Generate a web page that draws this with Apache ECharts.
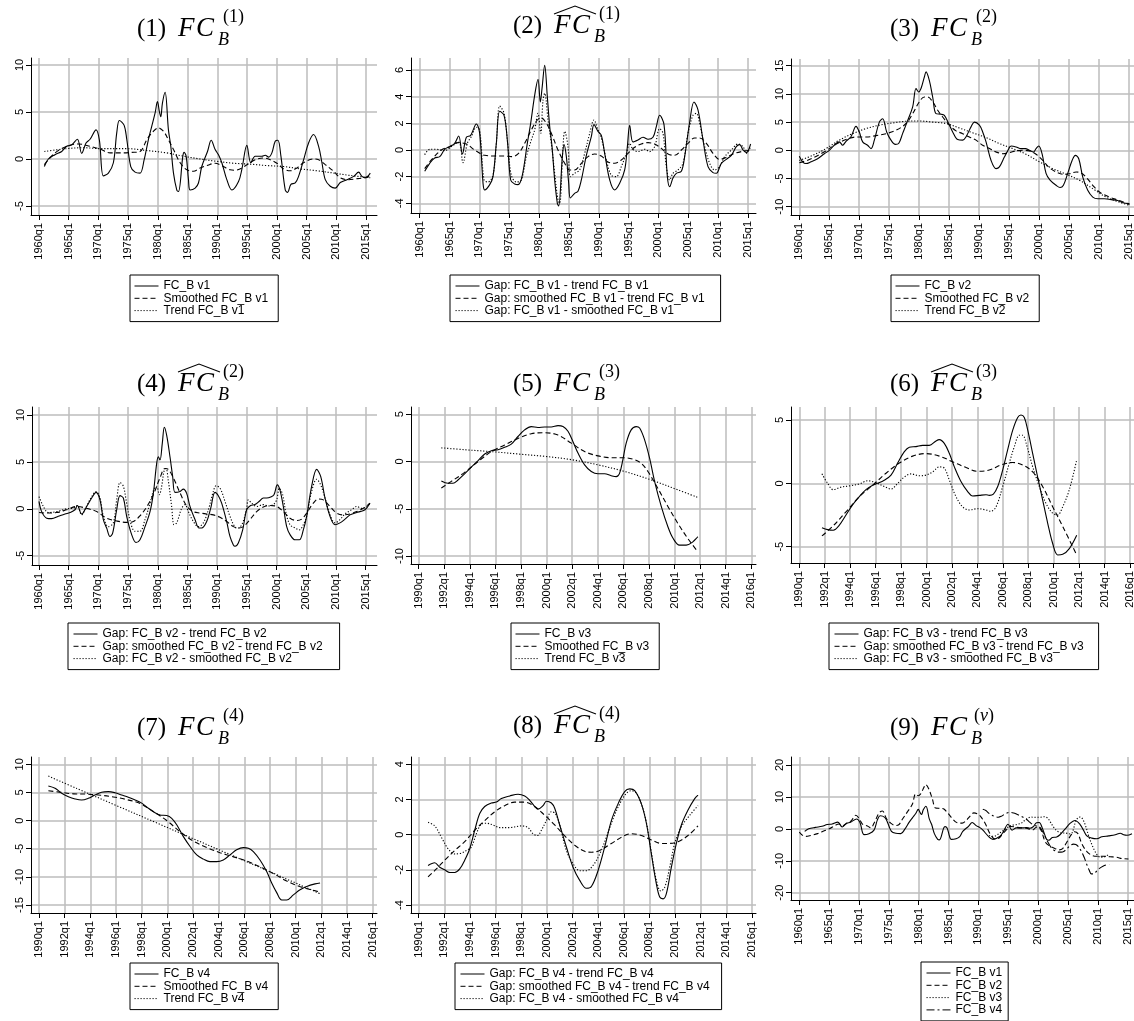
<!DOCTYPE html>
<html><head><meta charset="utf-8">
<script src="https://cdn.jsdelivr.net/npm/echarts@6/dist/echarts.min.js"></script>
<style>html,body{margin:0;padding:0;background:#fff}#c{width:1134px;height:1021px}</style>
</head><body><div id="c"></div>
<script>
// ---------- tick values ----------
const ticksLong = [1960,1965,1970,1975,1980,1985,1990,1995,2000,2005,2010,2015];
const ticksShort = [1990,1992,1994,1996,1998,2000,2002,2004,2006,2008,2010,2012,2014,2016];

// ---------- FC_B v1 (panels 1, 2, 9) ----------
const fc1 = [[1960.9,-0.8],[1961.57,0],[1962.69,0.46],[1963.82,0.8],[1964.66,1.35],[1965.5,1.5],[1966.45,2.1],[1967.18,0.6],[1967.91,1.7],[1968.59,2.1],[1969.6,3.1],[1970.16,2.0],[1970.83,-1.8],[1971.67,-1.5],[1972.51,-0.4],[1973.08,2.8],[1973.52,4.1],[1974.31,3.6],[1974.76,2.1],[1975.43,-0.8],[1976.16,-1.4],[1977.0,-1.5],[1977.68,-0.1],[1978.41,2.1],[1978.97,3.5],[1979.53,4.9],[1979.92,6.1],[1980.26,5.0],[1980.48,4.5],[1980.76,5.95],[1981.21,7.1],[1981.77,3.1],[1982.17,1.35],[1982.62,-1.5],[1983.18,-3.3],[1983.46,-3.45],[1984.19,0.3],[1984.41,0.7],[1984.75,0.3],[1985.14,-2.2],[1985.42,-3.3],[1986.26,-3.1],[1986.82,-2.55],[1987.38,-0.8],[1988.34,0.8],[1988.96,2.0],[1989.63,1.0],[1990.19,0.45],[1990.75,-0.4],[1991.59,-2.2],[1992.44,-3.3],[1993.56,-2.4],[1994.12,-1.1],[1994.96,1.45],[1995.63,-0.4],[1996.36,0.3],[1997.49,0.3],[1998.05,0.4],[1998.61,0.2],[1999.17,0.65],[1999.73,1.9],[2000.18,2.0],[2000.69,0.3],[2001.42,-3.3],[2001.81,-3.55],[2002.37,-2.7],[2003.1,-2.55],[2003.66,-1.85],[2004.5,-0.1],[2005.34,1.7],[2006.18,2.6],[2007.03,1.35],[2007.59,-0.4],[2008.15,-2.2],[2008.99,-2.9],[2009.83,-3.1],[2010.67,-2.5],[2011.8,-2.2],[2012.92,-1.85],[2013.76,-1.4],[2014.32,-1.85],[2014.88,-2.0],[2015.72,-1.5]];
const fc1Smooth = [[1960.9,-0.6],[1962.69,0.65],[1964.66,1.35],[1966.62,1.6],[1968.59,1.35],[1970.27,1.05],[1971.95,0.65],[1973.64,0.65],[1975.6,0.7],[1977.0,0.8],[1978.13,2.05],[1979.25,2.95],[1980.09,3.3],[1980.93,2.95],[1981.77,2.05],[1982.62,1.0],[1983.74,-0.4],[1984.86,-1.15],[1985.98,-1.3],[1987.1,-0.95],[1988.23,-0.7],[1989.63,-0.45],[1990.75,-0.7],[1992.15,-1.15],[1992.99,-1.2],[1994.12,-0.95],[1995.24,-0.5],[1996.36,-0.07],[1997.77,0.1],[1998.89,-0.07],[2000.01,-0.45],[2001.13,-1.05],[2002.26,-1.25],[2003.38,-0.95],[2004.5,-0.4],[2006.18,0],[2007.03,-0.07],[2008.15,-0.6],[2009.55,-1.3],[2010.67,-2.0],[2012.08,-2.2],[2013.48,-2.1],[2014.6,-2.0],[2015.72,-1.85]];
const fc1Trend = [[1960.9,0.8],[1964.66,1.1],[1967.46,1.2],[1970.27,1.1],[1974.76,1.1],[1978.13,0.9],[1981.49,0.65],[1984.3,0.3],[1987.1,0],[1989.91,-0.25],[1992.72,-0.45],[1995.52,-0.55],[1998.33,-0.7],[2001.13,-0.8],[2003.94,-1.05],[2006.75,-1.25],[2009.55,-1.5],[2012.36,-1.75],[2015.72,-2.0]];
const gap1Trend = [[1960.84,-1.6],[1961.68,-1.0],[1962.51,-0.6],[1963.35,-0.5],[1964.19,0.05],[1965.03,0.25],[1965.86,0.5],[1966.53,1.05],[1967.15,-0.3],[1967.82,0.95],[1968.54,1.1],[1969.49,1.95],[1970.05,1.25],[1970.61,-2.5],[1970.89,-3.0],[1971.73,-2.6],[1972.28,-2.0],[1972.84,0.5],[1973.4,2.9],[1974.13,2.6],[1974.68,0.75],[1975.24,-2.25],[1975.91,-2.55],[1976.47,-2.6],[1977.14,-2.0],[1978.03,0.5],[1978.59,2.0],[1979.26,4.1],[1979.82,5.3],[1980.21,3.6],[1980.49,4.6],[1980.94,6.35],[1981.38,4.0],[1981.78,1.75],[1982.17,0.25],[1982.61,-2.25],[1983.06,-4.0],[1983.28,-4.2],[1983.9,-0.5],[1984.18,0.4],[1984.57,-0.5],[1984.96,-2.5],[1985.24,-3.6],[1985.96,-3.25],[1986.52,-3.1],[1987.08,-2.25],[1987.92,-0.4],[1988.75,1.0],[1989.2,1.9],[1989.87,1.4],[1990.43,1.1],[1990.99,-0.25],[1991.83,-2.25],[1992.66,-3.0],[1993.5,-2.5],[1994.34,-1.5],[1994.79,0.25],[1995.18,1.85],[1995.73,0.6],[1996.57,0.75],[1997.41,0.95],[1998.25,0.8],[1999.08,0.95],[1999.64,1.75],[2000.2,2.6],[2000.93,1.9],[2001.49,-2.0],[2001.88,-2.75],[2002.43,-2.1],[2002.99,-1.75],[2003.83,-1.6],[2004.39,-0.5],[2005.23,2.1],[2005.95,3.6],[2006.62,3.0],[2007.46,0.75],[2008.3,-1.25],[2009.13,-1.7],[2009.69,-1.75],[2010.53,-1.0],[2011.37,-0.7],[2012.21,-0.4],[2013.04,0.25],[2013.6,0.4],[2014.16,0],[2014.72,-0.2],[2015.44,0.45]];
const gap1SmoothTrend = [[1960.84,-1.4],[1961.95,-0.75],[1963.63,0],[1965.03,0.25],[1966.42,0.55],[1967.82,0.45],[1969.21,0],[1970.89,-0.4],[1972.56,-0.45],[1974.24,-0.45],[1975.35,-0.5],[1976.47,-0.3],[1977.59,0.5],[1978.7,1.5],[1979.71,2.25],[1980.38,2.4],[1981.22,2.0],[1982.05,1.25],[1983.17,0],[1984.29,-1.0],[1985.13,-1.5],[1985.96,-1.5],[1987.08,-1.0],[1988.2,-0.5],[1989.31,-0.3],[1990.43,-0.45],[1991.55,-0.9],[1992.66,-1.0],[1993.78,-0.75],[1994.9,-0.25],[1996.01,0.2],[1997.13,0.45],[1998.25,0.55],[1999.36,0.45],[2000.48,0.12],[2001.6,-0.3],[2002.71,-0.4],[2003.83,0],[2004.95,0.5],[2006.06,0.9],[2006.9,0.9],[2008.02,0.5],[2009.13,-0.25],[2010.25,-0.7],[2011.37,-0.55],[2012.48,-0.3],[2013.88,-0.12],[2015.44,0]];
const gap1Smooth = [[1960.84,-0.35],[1961.68,0.05],[1962.79,0.05],[1964.19,-0.05],[1965.3,0.25],[1966.53,0.6],[1967.26,-0.95],[1967.98,0.5],[1968.65,1.0],[1969.49,1.7],[1970.05,1.5],[1970.78,-2.25],[1971.45,-2.4],[1972.28,-1.9],[1972.84,0.5],[1973.4,3.3],[1974.13,2.75],[1974.8,0.25],[1975.35,-1.9],[1976.19,-2.4],[1977.03,-2.25],[1977.87,-0.5],[1978.7,0.75],[1979.26,1.5],[1979.82,2.75],[1980.27,1.25],[1980.66,3.75],[1980.94,4.25],[1981.5,2.25],[1982.05,0.5],[1982.61,-1.75],[1983.17,-3.75],[1983.45,-4.0],[1984.01,0.25],[1984.29,1.4],[1984.85,0.25],[1985.24,-2.0],[1985.96,-1.75],[1986.8,-1.5],[1987.64,-0.25],[1988.48,1.25],[1989.2,2.25],[1989.87,1.5],[1990.43,0.9],[1991.27,-0.75],[1992.1,-1.9],[1992.94,-2.0],[1993.78,-1.25],[1994.62,-0.25],[1995.18,0.5],[1995.73,0.05],[1996.57,-0.12],[1997.69,0.05],[1998.53,-0.12],[1999.36,0.25],[2000.2,1.6],[2000.76,1.25],[2001.32,-1.25],[2001.88,-2.25],[2002.43,-1.75],[2003.27,-1.5],[2004.11,-1.0],[2004.95,1.25],[2005.78,2.6],[2006.34,2.75],[2006.9,2.0],[2007.74,0.25],[2008.58,-1.0],[2009.41,-1.5],[2010.25,-1.25],[2011.09,-0.5],[2012.21,0],[2013.32,0.45],[2014.16,0.25],[2014.72,-0.25],[2015.44,0.25]];

// ---------- FC_B v2 (panels 3, 4, 9) ----------
const fc2 = [[1960.0,-1.05],[1960.56,-2.05],[1961.11,-2.35],[1961.95,-2.05],[1963.06,-1.5],[1964.18,-0.6],[1965.01,0],[1966.12,1.2],[1966.68,1.5],[1967.24,0.9],[1967.8,1.6],[1968.63,2.4],[1969.47,4.25],[1970.02,3.25],[1970.58,1.5],[1971.41,0.9],[1971.97,0.3],[1972.53,1.8],[1973.36,5.0],[1973.92,5.6],[1974.59,3.25],[1975.31,1.8],[1976.04,1.05],[1976.59,1.2],[1977.26,3.0],[1978.1,5.3],[1978.93,7.7],[1979.49,10.95],[1979.93,10.35],[1980.32,10.95],[1980.88,13.0],[1981.16,13.9],[1981.71,12.4],[1982.27,9.45],[1982.83,6.5],[1983.66,6.4],[1984.22,6.2],[1984.94,4.75],[1985.61,3.25],[1986.45,1.9],[1987.28,1.8],[1987.84,2.4],[1988.67,4.15],[1989.23,5.0],[1990.07,4.45],[1990.62,3.25],[1991.18,1.5],[1992.02,-1.8],[1992.85,-3.25],[1993.41,-2.95],[1994.24,-1.2],[1994.8,-0.1],[1995.36,0.75],[1996.19,0.6],[1997.03,0.3],[1997.75,0.3],[1998.42,0],[1999.09,-0.3],[1999.53,0.3],[1999.98,0.75],[2000.53,-0.6],[2001.2,-4.1],[2001.87,-5.3],[2002.87,-6.2],[2003.54,-6.6],[2004.1,-6.2],[2004.82,-4.1],[2005.55,-1.8],[2006.1,-0.9],[2006.66,-1.5],[2007.33,-4.75],[2008.16,-7.1],[2009.0,-8.3],[2009.83,-8.6],[2010.95,-8.6],[2012.06,-8.75],[2013.17,-8.9],[2014.01,-9.3],[2015.12,-9.45]];
const fc2Smooth = [[1960.0,-2.2],[1961.67,-1.65],[1963.9,-0.45],[1966.12,1.05],[1967.8,1.9],[1969.47,2.35],[1971.14,2.35],[1972.81,2.6],[1974.48,2.95],[1976.15,3.55],[1977.82,4.75],[1978.93,6.5],[1980.04,8.6],[1980.88,9.45],[1981.44,9.45],[1982.27,8.6],[1983.11,7.1],[1983.94,5.9],[1985.06,4.45],[1986.17,3.45],[1987.28,2.95],[1988.4,2.35],[1989.51,1.8],[1990.62,0.9],[1991.74,0.3],[1992.85,-0.3],[1993.96,-0.6],[1995.08,-0.4],[1996.19,-0.1],[1997.31,0],[1998.42,-0.1],[1999.53,-0.7],[2000.65,-1.8],[2001.76,-3.1],[2002.87,-3.85],[2003.99,-4.25],[2005.1,-4.15],[2006.21,-3.85],[2007.05,-4.0],[2007.88,-4.75],[2009.0,-6.2],[2010.11,-7.4],[2011.78,-8.3],[2013.45,-8.9],[2015.12,-9.6]];
const fc2Trend = [[1960.0,-1.8],[1962.23,-0.9],[1964.45,0.3],[1966.68,1.8],[1968.91,2.95],[1971.14,3.85],[1973.36,4.45],[1975.59,4.85],[1977.82,5.15],[1980.04,5.2],[1982.27,5.0],[1984.5,4.75],[1986.73,3.95],[1988.95,3.1],[1991.18,2.25],[1993.41,1.2],[1995.63,0.3],[1997.86,-0.7],[2000.09,-2.05],[2002.32,-3.25],[2004.54,-4.25],[2006.77,-5.3],[2009.0,-6.8],[2011.22,-8.3],[2013.45,-9.2],[2015.12,-9.75]];
const gap2Trend = [[1960.0,0.8],[1960.45,-0.3],[1961.29,-1.0],[1962.13,-1.05],[1963.25,-0.8],[1964.38,-0.55],[1965.22,-0.4],[1966.06,-0.1],[1966.45,0.35],[1967.18,-0.55],[1968.02,0.25],[1968.87,1.15],[1969.6,1.75],[1970.27,0.95],[1970.83,-1.15],[1971.39,-2.05],[1971.95,-2.95],[1972.4,-2.6],[1973.08,-0.1],[1973.64,1.4],[1974.2,1.15],[1974.76,-0.8],[1975.6,-2.75],[1976.33,-3.6],[1977.0,-3.3],[1977.85,-1.9],[1978.69,-0.3],[1979.25,1.65],[1979.81,4.85],[1980.09,5.55],[1980.37,5.2],[1980.76,7.0],[1981.1,8.7],[1981.49,7.85],[1982.05,5.55],[1982.5,3.45],[1982.9,1.75],[1983.74,1.85],[1984.3,2.1],[1984.86,1.65],[1985.42,0.25],[1986.26,-1.15],[1986.94,-2.05],[1987.38,-2.05],[1988.23,-1.35],[1988.9,0.05],[1989.63,1.75],[1990.19,1.4],[1990.75,0.6],[1991.59,-1.35],[1992.15,-2.95],[1992.72,-3.85],[1993.0,-4.0],[1993.56,-3.65],[1994.29,-2.25],[1994.96,-0.1],[1995.63,0.35],[1996.36,0.45],[1997.09,0.8],[1997.77,1.15],[1998.33,1.15],[1999.0,1.25],[1999.56,1.5],[2000.12,2.55],[2000.57,2.0],[2001.13,0.25],[2001.7,-1.9],[2002.26,-2.75],[2003.1,-3.3],[2003.83,-3.3],[2004.5,-2.25],[2005.06,-0.8],[2005.9,2.4],[2006.75,4.2],[2007.42,3.45],[2008.15,1.15],[2008.99,-0.8],[2009.83,-1.7],[2010.67,-1.5],[2011.52,-1.1],[2012.36,-0.65],[2013.2,-0.45],[2014.04,-0.3],[2014.88,-0.1],[2015.72,0.6]];
const gap2SmoothTrend = [[1960.0,-0.4],[1961.29,-0.45],[1962.97,-0.4],[1964.66,-0.1],[1966.34,0.25],[1968.02,0.05],[1969.71,-0.3],[1971.39,-1.0],[1973.08,-1.3],[1974.76,-1.45],[1975.88,-1.35],[1977.0,-0.75],[1978.13,0.2],[1979.25,1.5],[1980.37,3.3],[1981.21,4.3],[1981.77,4.2],[1982.62,3.3],[1983.74,1.7],[1984.86,0.3],[1985.98,-0.3],[1987.1,-0.45],[1988.23,-0.55],[1989.35,-0.65],[1990.47,-0.9],[1991.59,-1.35],[1992.72,-1.9],[1993.56,-2.05],[1994.4,-1.9],[1995.52,-1.15],[1996.64,-0.3],[1997.77,0.2],[1998.89,0.35],[2000.01,0.25],[2001.13,-0.3],[2002.26,-1.0],[2003.38,-1.25],[2004.22,-1.1],[2005.06,-0.45],[2006.18,0.6],[2007.03,1.05],[2007.87,0.95],[2008.99,0.25],[2010.11,-0.45],[2011.24,-0.65],[2012.36,-0.55],[2013.48,-0.3],[2014.6,0.05],[2015.72,0.6]];
const gap2Smooth = [[1960.0,1.3],[1960.73,0.25],[1961.57,-0.4],[1962.97,-0.3],[1964.66,0],[1965.78,0.05],[1966.45,0.35],[1967.18,-0.65],[1967.91,0.15],[1968.87,1.3],[1969.6,1.85],[1970.27,1.15],[1970.83,-0.8],[1971.67,-1.9],[1972.51,-1.5],[1973.08,0.95],[1973.64,2.8],[1974.2,2.4],[1974.76,0.6],[1975.43,-1.5],[1976.16,-2.4],[1977.0,-2.4],[1977.85,-1.15],[1978.69,0.6],[1979.36,2.1],[1979.81,2.4],[1980.26,1.5],[1980.65,2.4],[1981.04,4.0],[1981.38,4.3],[1981.77,3.0],[1982.33,0.25],[1982.73,-1.7],[1983.18,-1.5],[1984.02,0.05],[1984.58,0.45],[1985.14,-0.3],[1985.98,-1.35],[1986.82,-1.9],[1987.67,-1.5],[1988.51,-0.1],[1989.35,1.85],[1989.8,2.45],[1990.47,2.2],[1991.31,0.8],[1992.15,-0.8],[1993.0,-1.95],[1993.56,-2.05],[1994.29,-1.5],[1994.96,0.05],[1995.24,0.95],[1995.8,0.6],[1996.64,0.25],[1997.77,0.45],[1998.61,0.3],[1999.45,0.45],[2000.01,0.95],[2000.46,2.2],[2001.02,1.5],[2001.58,-0.45],[2002.26,-1.7],[2003.1,-2.05],[2003.83,-2.25],[2004.5,-1.7],[2005.06,-0.8],[2005.9,1.85],[2006.75,3.15],[2007.42,2.55],[2008.15,1.15],[2008.99,-0.65],[2009.83,-1.5],[2010.67,-1.15],[2011.52,-0.55],[2012.64,-0.1],[2013.48,0.25],[2014.32,0.05],[2015.16,0.25],[2015.72,0.6]];

// ---------- FC_B v3 (panels 5, 6, 9) ----------
const fc3 = [[1991.77,-2.05],[1992.29,-2.3],[1992.68,-2.3],[1993.07,-1.95],[1993.59,-1.3],[1994.11,-0.6],[1994.64,0.1],[1995.16,0.8],[1995.68,1.15],[1996.2,1.25],[1996.72,1.5],[1997.24,1.85],[1997.76,2.65],[1998.28,3.35],[1998.8,3.7],[1999.32,3.6],[1999.84,3.65],[2000.36,3.65],[2000.89,3.8],[2001.28,3.7],[2001.67,3.2],[2002.06,2.1],[2002.45,0.9],[2002.97,-0.35],[2003.49,-1.05],[2004.01,-1.3],[2004.53,-1.3],[2005.05,-1.5],[2005.44,-1.6],[2005.7,-1.25],[2005.96,0.2],[2006.22,1.95],[2006.61,3.35],[2007.0,3.7],[2007.27,3.55],[2007.66,2.3],[2008.05,0.35],[2008.44,-2.1],[2008.96,-4.75],[2009.48,-6.9],[2009.87,-8.1],[2010.39,-8.85],[2010.91,-8.85],[2011.43,-8.5],[2011.82,-7.95]];
const fc3Smooth = [[1991.77,-2.8],[1992.55,-2.1],[1993.59,-1.15],[1994.64,0],[1995.68,1.05],[1996.72,1.75],[1997.76,2.45],[1998.8,2.95],[1999.84,3.05],[2000.89,2.8],[2001.93,1.95],[2002.97,1.05],[2004.01,0.6],[2005.05,0.4],[2006.09,0.4],[2006.88,0.2],[2007.4,-0.2],[2007.92,-1.05],[2008.7,-2.85],[2009.48,-4.75],[2010.26,-6.55],[2011.04,-8.15],[2011.82,-9.55]];
const fc3Trend = [[1991.77,1.45],[1993.59,1.25],[1995.68,1.05],[1997.76,0.8],[1999.84,0.55],[2001.93,0.2],[2004.01,-0.35],[2006.09,-1.05],[2008.18,-1.95],[2010.26,-3.0],[2011.82,-3.8]];
const gap3Trend = [[1991.78,-3.5],[1992.23,-3.65],[1992.67,-3.7],[1993.15,-3.3],[1993.67,-2.5],[1994.19,-1.7],[1994.72,-1.05],[1995.24,-0.5],[1995.77,-0.15],[1996.16,0],[1996.68,0.25],[1997.21,0.65],[1997.73,1.6],[1998.26,2.5],[1998.65,2.85],[1999.17,2.9],[1999.7,3.0],[2000.22,3.0],[2000.75,3.35],[2001.01,3.45],[2001.4,3.15],[2001.8,2.35],[2002.19,1.3],[2002.71,0.15],[2003.24,-0.65],[2003.63,-1.0],[2004.15,-0.95],[2004.68,-0.9],[2004.94,-0.95],[2005.26,-0.85],[2005.6,-0.25],[2005.99,1.05],[2006.38,2.65],[2006.78,4.2],[2007.17,5.2],[2007.43,5.4],[2007.69,5.2],[2007.96,4.2],[2008.35,2.35],[2008.74,0.5],[2009.13,-1.3],[2009.53,-3.15],[2009.92,-4.75],[2010.31,-5.65],[2010.71,-5.6],[2011.23,-5.15],[2011.81,-4.1]];
const gap3SmoothTrend = [[1991.78,-4.15],[1992.62,-3.4],[1993.67,-2.25],[1994.72,-1.05],[1995.77,-0.15],[1996.82,0.8],[1997.86,1.6],[1998.91,2.15],[1999.96,2.35],[2001.01,2.15],[2002.06,1.7],[2003.11,1.25],[2004.02,0.95],[2004.94,1.05],[2005.86,1.45],[2006.78,1.65],[2007.56,1.45],[2008.35,0.9],[2009.13,-0.25],[2009.92,-1.85],[2010.71,-3.4],[2011.81,-5.65]];
const gap3Smooth = [[1991.78,0.75],[1992.23,0],[1992.67,-0.5],[1993.28,-0.3],[1993.93,-0.2],[1994.72,-0.05],[1995.37,0.2],[1996.03,0.05],[1996.68,-0.25],[1997.21,-0.45],[1997.73,0],[1998.26,0.5],[1998.78,0.75],[1999.44,0.6],[1999.96,0.65],[2000.48,0.9],[2001.01,1.3],[2001.4,1.2],[2001.8,0.25],[2002.32,-1.05],[2002.84,-1.85],[2003.37,-2.1],[2004.02,-2.0],[2004.68,-2.1],[2005.07,-2.2],[2005.47,-1.85],[2005.99,-0.25],[2006.51,1.6],[2006.91,2.9],[2007.3,3.8],[2007.56,3.8],[2007.88,3.0],[2008.35,1.3],[2008.87,-0.25],[2009.4,-1.6],[2009.92,-2.35],[2010.31,-2.5],[2010.71,-1.85],[2011.23,-0.5],[2011.81,1.85]];

// ---------- FC_B v4 (panels 7, 8, 9) ----------
const fc4 = [[1990.73,6.15],[1991.25,5.75],[1991.77,4.85],[1992.29,4.25],[1992.81,3.85],[1993.32,3.65],[1993.84,3.95],[1994.36,4.55],[1994.88,5.05],[1995.4,5.15],[1995.92,4.95],[1996.44,4.55],[1996.96,4.15],[1997.48,3.65],[1998.0,3.1],[1998.52,2.2],[1999.04,1.4],[1999.43,1.0],[1999.95,0.9],[2000.34,0.4],[2000.73,-0.75],[2001.25,-2.85],[2001.77,-4.6],[2002.29,-6.1],[2002.81,-6.85],[2003.32,-7.3],[2003.84,-7.3],[2004.36,-7.0],[2004.88,-6.1],[2005.4,-5.2],[2005.92,-4.8],[2006.31,-4.9],[2006.7,-5.5],[2007.22,-7.0],[2007.74,-9.05],[2008.13,-11.1],[2008.52,-12.8],[2008.91,-14.1],[2009.3,-14.1],[2009.82,-13.2],[2010.34,-12.3],[2010.86,-11.7],[2011.51,-11.25],[2011.9,-11.1]];
const fc4Smooth = [[1990.73,5.3],[1991.6,5.05],[1992.7,4.75],[1993.7,4.7],[1994.8,4.5],[1995.8,4.2],[1996.8,3.75],[1997.9,3.0],[1998.9,1.6],[1999.9,0.1],[2001.0,-2.0],[2002.0,-3.6],[2003.1,-4.8],[2004.1,-5.7],[2005.1,-6.4],[2006.2,-7.2],[2007.2,-8.2],[2008.3,-9.45],[2009.3,-10.75],[2010.3,-11.7],[2011.4,-12.4],[2011.9,-12.7]];
const fc4Trend = [[1990.73,7.9],[1993.0,5.65],[1996.0,2.7],[1999.0,-0.25],[2002.0,-3.2],[2005.0,-6.15],[2008.0,-9.1],[2011.9,-13.0]];
const gap4Trend = [[1990.73,-1.75],[1991.25,-1.6],[1991.64,-1.85],[1992.03,-2.0],[1992.42,-2.15],[1992.81,-2.15],[1993.2,-1.95],[1993.59,-1.45],[1993.98,-0.8],[1994.37,0.25],[1994.76,1.2],[1995.15,1.6],[1995.67,1.8],[1996.06,1.85],[1996.45,2.05],[1997.1,2.2],[1997.75,2.3],[1998.27,2.2],[1998.66,1.95],[1999.05,1.6],[1999.31,1.45],[1999.7,1.65],[1999.96,1.9],[2000.35,1.8],[2000.61,1.5],[2001.0,0.55],[2001.52,-0.7],[2002.04,-1.85],[2002.56,-2.6],[2003.08,-3.05],[2003.47,-2.95],[2003.99,-2.05],[2004.51,-0.7],[2005.03,0.8],[2005.55,1.75],[2006.07,2.45],[2006.46,2.6],[2006.85,2.5],[2007.37,1.75],[2007.76,0.65],[2008.15,-1.1],[2008.54,-2.8],[2008.8,-3.55],[2009.06,-3.65],[2009.32,-3.35],[2009.71,-1.85],[2010.1,-0.5],[2010.49,0.55],[2011.01,1.4],[2011.53,2.05],[2011.79,2.25]];
const gap4SmoothTrend = [[1990.73,-2.4],[1991.38,-1.95],[1992.03,-1.45],[1992.81,-0.9],[1993.59,-0.4],[1994.37,0.25],[1995.15,0.8],[1995.93,1.3],[1996.71,1.65],[1997.49,1.85],[1998.27,1.85],[1999.05,1.6],[1999.83,1.1],[2000.61,0.55],[2001.39,-0.07],[2002.17,-0.6],[2002.95,-0.95],[2003.47,-1.0],[2004.12,-0.9],[2005.03,-0.5],[2006.07,-0.05],[2006.59,0.05],[2007.37,-0.05],[2008.15,-0.3],[2008.93,-0.5],[2009.45,-0.5],[2010.23,-0.4],[2011.01,-0.05],[2011.79,0.5]];
const gap4Smooth = [[1990.73,0.7],[1991.25,0.5],[1991.77,-0.15],[1992.29,-0.8],[1992.81,-1.1],[1993.33,-1.05],[1993.72,-0.9],[1994.11,-0.7],[1994.5,0.05],[1994.89,0.6],[1995.28,0.65],[1995.8,0.55],[1996.32,0.4],[1997.1,0.4],[1998.01,0.5],[1998.53,0.4],[1998.92,0.05],[1999.26,-0.05],[1999.57,0.25],[1999.96,0.8],[2000.35,1.3],[2000.66,1.2],[2001.0,0.55],[2001.52,-0.9],[2002.04,-1.65],[2002.56,-2.05],[2003.08,-2.05],[2003.6,-1.75],[2004.12,-1.1],[2004.64,-0.15],[2005.16,0.9],[2005.68,1.75],[2006.2,2.35],[2006.59,2.5],[2006.98,2.35],[2007.37,1.75],[2007.76,0.7],[2008.15,-1.0],[2008.54,-2.6],[2008.88,-3.2],[2009.19,-3.0],[2009.58,-1.85],[2009.97,-0.5],[2010.49,0.45],[2011.14,1.1],[2011.79,1.65]];

// ---------- panel layout (pixel geometry, kept apart from data) ----------
const SOLID = 'solid', DASH = [5, 3], DOT = [1.2, 1.8], DASHDOT = [8, 3, 2, 3];
const panels = [
  {grid:[31,377,58,215], xRef:[1960,39,2015,366], yRef:[10,65,-5,206], xTicks:ticksLong, yTicks:[-5,0,5,10],
   lines:[['FC_B v1',fc1,SOLID],['Smoothed FC_B v1',fc1Smooth,DASH],['Trend FC_B v1',fc1Trend,DOT]],
   legend:{left:130, top:275, pad:[5,10,5,4]}, title:{x:137, base:38, n:'1', sup:'(1)', hat:false}},
  {grid:[411,756,58,213], xRef:[1960,419.7,2015,748], yRef:[6,70,-4,203.3], xTicks:ticksLong, yTicks:[-4,-2,0,2,4,6],
   lines:[['Gap: FC_B v1 - trend FC_B v1',gap1Trend,SOLID],['Gap: smoothed FC_B v1 - trend FC_B v1',gap1SmoothTrend,DASH],['Gap: FC_B v1 - smoothed FC_B v1',gap1Smooth,DOT]],
   legend:{left:450, top:275, pad:[5,16,5,5]}, title:{x:513, base:35, n:'2', sup:'(1)', hat:true}},
  {grid:[791,1134,59,215], xRef:[1960,799.3,2015,1128.7], yRef:[15,65.7,-10,206.7], xTicks:ticksLong, yTicks:[-10,-5,0,5,10,15],
   lines:[['FC_B v2',fc2,SOLID],['Smoothed FC_B v2',fc2Smooth,DASH],['Trend FC_B v2',fc2Trend,DOT]],
   legend:{left:891, top:275, pad:[5,10,5,4]}, title:{x:890, base:38, n:'3', sup:'(2)', hat:false}},
  {grid:[32,377,407,565], xRef:[1960,39,2015,365.7], yRef:[10,415,-5,555.7], xTicks:ticksLong, yTicks:[-5,0,5,10],
   lines:[['Gap: FC_B v2 - trend FC_B v2',gap2Trend,SOLID],['Gap: smoothed FC_B v2 - trend FC_B v2',gap2SmoothTrend,DASH],['Gap: FC_B v2 - smoothed FC_B v2',gap2Smooth,DOT]],
   legend:{left:68, top:623, pad:[5,17,5,5]}, title:{x:137, base:393, n:'4', sup:'(2)', hat:true}},
  {grid:[411,756,407,564], xRef:[1990,418.7,2016,751.3], yRef:[5,414.3,-10,556], xTicks:ticksShort, yTicks:[-10,-5,0,5],
   lines:[['FC_B v3',fc3,SOLID],['Smoothed FC_B v3',fc3Smooth,DASH],['Trend FC_B v3',fc3Trend,DOT]],
   legend:{left:511, top:623, pad:[5,10,5,4]}, title:{x:513, base:393, n:'5', sup:'(3)', hat:false}},
  {grid:[791,1134,407,563], xRef:[1990,799.3,2016,1130], yRef:[5,420,-5,546.7], xTicks:ticksShort, yTicks:[-5,0,5],
   lines:[['Gap: FC_B v3 - trend FC_B v3',gap3Trend,SOLID],['Gap: smoothed FC_B v3 - trend FC_B v3',gap3SmoothTrend,DASH],['Gap: FC_B v3 - smoothed FC_B v3',gap3Smooth,DOT]],
   legend:{left:829, top:623, pad:[5,15,5,5]}, title:{x:890, base:393, n:'6', sup:'(3)', hat:true}},
  {grid:[31,377,757,913], xRef:[1990,39,2016,372.7], yRef:[10,764.3,-15,905], xTicks:ticksShort, yTicks:[-15,-10,-5,0,5,10],
   lines:[['FC_B v4',fc4,SOLID],['Smoothed FC_B v4',fc4Smooth,DASH],['Trend FC_B v4',fc4Trend,DOT]],
   legend:{left:130, top:963, pad:[5,10,5,4]}, title:{x:137, base:737, n:'7', sup:'(4)', hat:false}},
  {grid:[411,756,757,913], xRef:[1990,418.7,2016,752], yRef:[4,764.3,-4,905], xTicks:ticksShort, yTicks:[-4,-2,0,2,4],
   lines:[['Gap: FC_B v4 - trend FC_B v4',gap4Trend,SOLID],['Gap: smoothed FC_B v4 - trend FC_B v4',gap4SmoothTrend,DASH],['Gap: FC_B v4 - smoothed FC_B v4',gap4Smooth,DOT]],
   legend:{left:455, top:963, pad:[5,12,5,5]}, title:{x:513, base:735, n:'8', sup:'(4)', hat:true}},
  {grid:[791,1134,757,900], xRef:[1960,799.3,2015,1127.7], yRef:[20,765,-20,892.7], xTicks:ticksLong, yTicks:[-20,-10,0,10,20],
   lines:[['FC_B v1 [9]',fc1,SOLID],['FC_B v2 [9]',fc2,DASH],['FC_B v3 [9]',fc3,DOT],['FC_B v4 [9]',fc4,DASHDOT]],
   legend:{left:921, top:962, pad:[5,6,5,5]}, title:{x:890, base:737, n:'9', sup:'v', hat:false}}
];

const SANS = '"Liberation Sans", Arial, sans-serif';
const SERIF = '"Liberation Serif", "Times New Roman", serif';
const GRIDLINE = {color:'#bcbcbc', width:1.5};
const option = {backgroundColor:'#ffffff', animation:false, grid:[], xAxis:[], yAxis:[], series:[], legend:[], graphic:{elements:[]}};

function txt(text, x, base, size, italic, extra) {
  return Object.assign({type:'text', x:x, y:base - 0.3375*size, silent:true, z:100,
    style:{text:text, fill:'#000', font:(italic?'italic ':'') + size + 'px ' + SERIF, align:'left', verticalAlign:'middle'}}, extra || {});
}

panels.forEach((p, i) => {
  const [l, r, t, b] = p.grid;
  option.grid.push({left:l, top:t, width:r-l, height:b-t, containLabel:false, outerBoundsMode:'none', show:false});
  const [xv0, xp0, xv1, xp1] = p.xRef, sx = (xv1-xv0)/(xp1-xp0);
  const [yv0, yp0, yv1, yp1] = p.yRef, sy = (yv0-yv1)/(yp1-yp0);
  option.xAxis.push({gridIndex:i, type:'value', min:xv0-(xp0-l)*sx, max:xv0+(r-xp0)*sx, position:'bottom',
    axisLine:{show:true, onZero:false, lineStyle:{color:'#000', width:1}},
    axisTick:{show:true, inside:false, length:5, customValues:p.xTicks, lineStyle:{color:'#000', width:1}},
    axisLabel:{show:true, customValues:p.xTicks, rotate:90, margin:8, fontSize:11, fontFamily:SANS, color:'#000',
      formatter:v => Math.round(v) + 'q1'},
    splitLine:{show:true, lineStyle:GRIDLINE}});
  option.yAxis.push({gridIndex:i, type:'value', min:yv1-(b-yp1)*sy, max:yv0+(yp0-t)*sy, position:'left',
    axisLine:{show:true, onZero:false, lineStyle:{color:'#000', width:1}},
    axisTick:{show:true, inside:false, length:5, customValues:p.yTicks, lineStyle:{color:'#000', width:1}},
    axisLabel:{show:true, customValues:p.yTicks, rotate:90, margin:6, fontSize:11, fontFamily:SANS, color:'#000',
      formatter:v => String(Math.round(v))},
    splitLine:{show:true, lineStyle:GRIDLINE}});
  p.lines.forEach(([name, data, pattern]) => {
    option.series.push({type:'line', name:name, data:data, xAxisIndex:i, yAxisIndex:i, symbol:'none', showSymbol:false,
      smooth:0.35, silent:true, z:3, lineStyle:{color:'#000', width:1.1, type:pattern}, itemStyle:{color:'#000'},
      emphasis:{disabled:true}});
  });
  option.legend.push({show:true, orient:'vertical', left:p.legend.left, top:p.legend.top, padding:p.legend.pad,
    data:p.lines.map(d => d[0]), itemWidth:24, itemHeight:12, itemGap:0.3, selectedMode:false,
    backgroundColor:'#fff', borderColor:'#000', borderWidth:1, borderRadius:0,
    itemStyle:{opacity:0}, lineStyle:{width:1, color:'#000'},
    textStyle:{fontSize:12, fontFamily:SANS, color:'#000', lineHeight:12},
    formatter:n => n.replace(/ \[9\]$/, '')});
  // title: "(n) FC_B^(k)" with optional wide hat
  const T = p.title, X = T.x, B = T.base, els = option.graphic.elements;
  els.push(txt('(' + T.n + ')', X, B, 25, false));
  els.push(txt('F', X + 41, B, 27, true));
  els.push(txt('C', X + 59, B, 27, true));
  if (T.sup === 'v') {
    els.push({type:'text', x:X + 84, y:B - 15 - 0.3375*18, silent:true, z:100,
      style:{text:'{a|(}{b|v}{a|)}', align:'left', verticalAlign:'middle', fill:'#000',
        rich:{a:{font:'18px ' + SERIF, fill:'#000'}, b:{font:'italic 18px ' + SERIF, fill:'#000'}}}});
  } else {
    els.push(txt(T.sup, X + 86, B - 15, 18, false));
  }
  els.push(txt('B', X + 81, B + 8.5, 18, true));
  if (T.hat) {
    els.push({type:'polyline', silent:true, z:100, shape:{points:[[X + 41, B - 21], [X + 62, B - 29], [X + 83, B - 21]]},
      style:{stroke:'#000', lineWidth:1.1, fill:null}});
  }
});

const chart = echarts.init(document.getElementById('c'), null, {renderer:'canvas'});
chart.setOption(option);
</script></body></html>
